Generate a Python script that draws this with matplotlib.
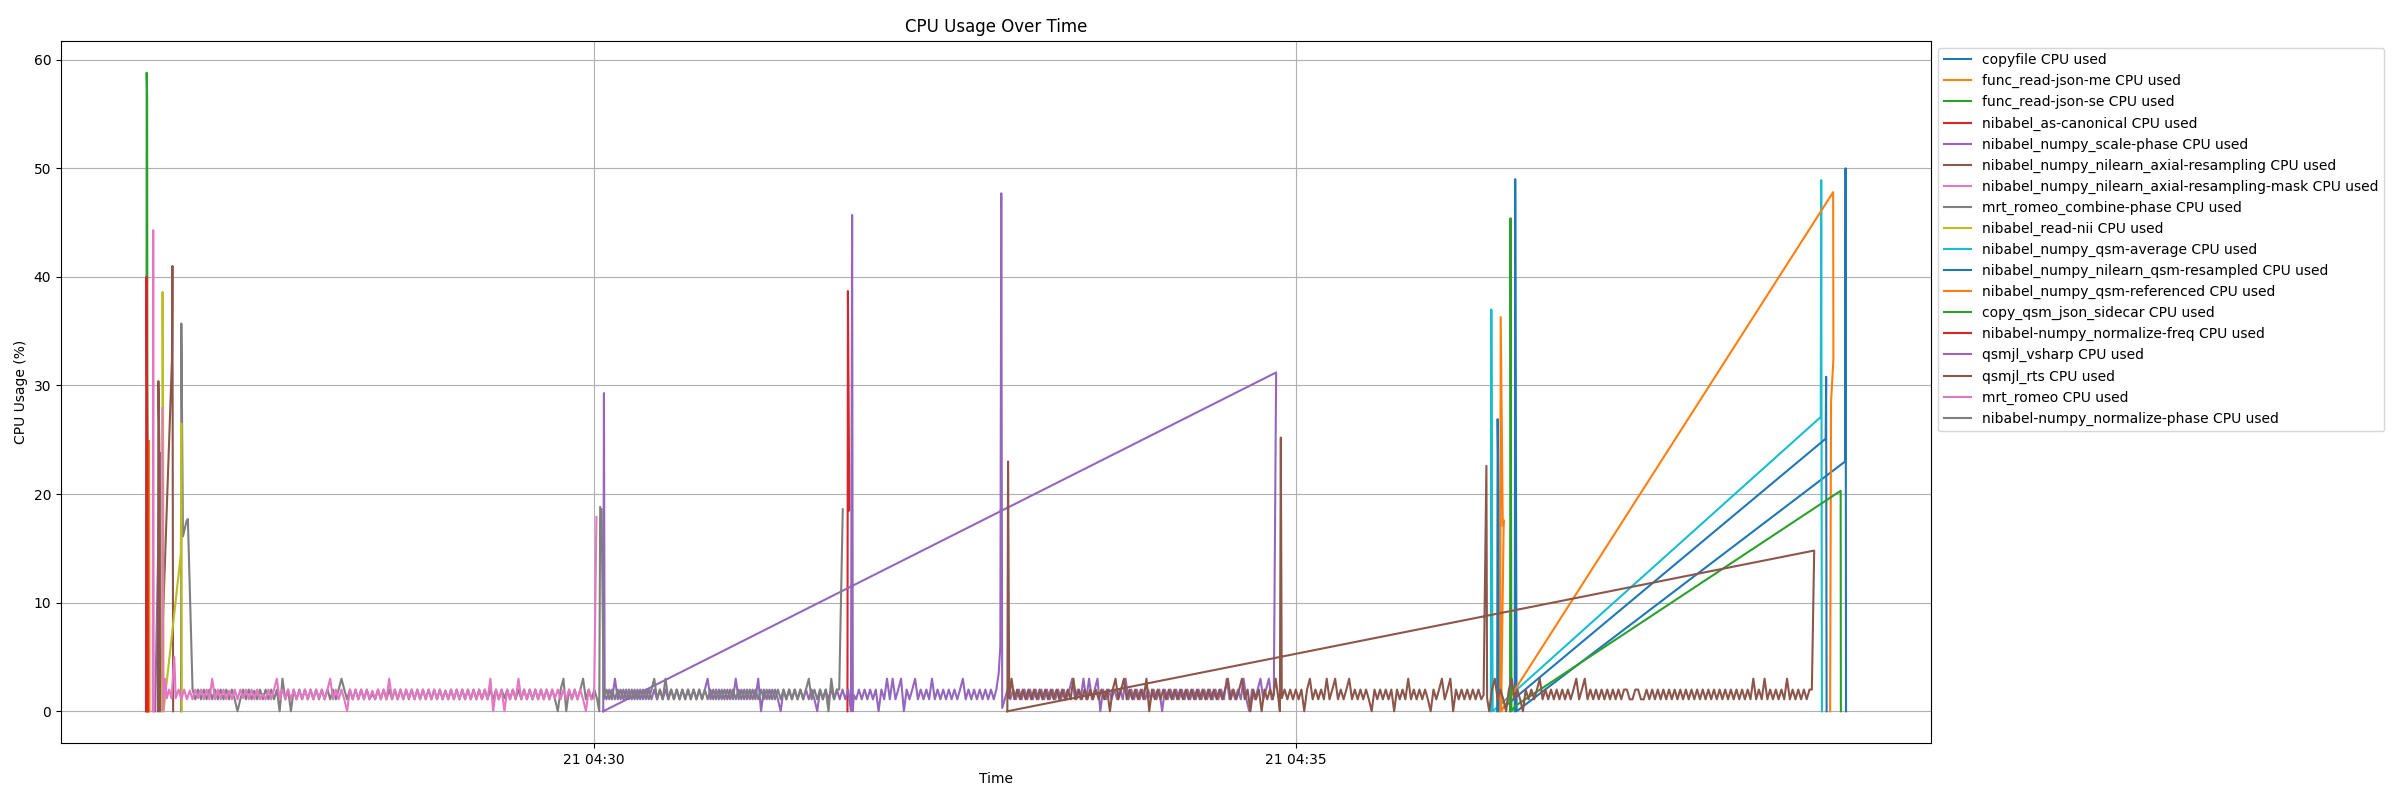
import pandas as pd
import matplotlib
matplotlib.use('Agg')
import matplotlib.pyplot as plt

# timestamps are seconds relative to 04:30:00, monitor sampled every ~1.2 s
base_time = pd.Timestamp('2024-05-21 04:30:00')
sample_step = 1.2

# --- short runs (time in s, cpu in %) ---
copyfile_t = [393.3, 393.5, 393.9, 394.1, 534.4, 534.6, 534.8]
copyfile_v = [0.0, 49.0, 16.4, 0.0, 23.0, 50.0, 0.0]

json_me_t = [-190.2, -190.0, -189.8]
json_me_v = [0.0, 24.9, 0.0]

json_se_t = [-191.1, -191.0, -190.8, -190.6]
json_se_v = [0.0, 58.8, 56.9, 0.0]

canonical_t = [-191.3, -191.1, -190.9, -190.7, -190.5]
canonical_v = [0.0, 40.0, 31.9, 25.3, 0.0]

scale_phase_t = [-187.4, -185.3, -185.1]
scale_phase_v = [0.0, 23.8, 0.0]

axial_t = [-186.2, -186.0, -185.6, -185.4, -180.2, -180.0, -179.7]
axial_v = [0.0, 30.4, 24.7, 0.0, 32.4, 41.0, 0.0]

axial_mask_t = [-188.4, -188.2, -188.0]
axial_mask_v = [0.0, 44.3, 0.0]

read_nii_t = [-184.4, -184.2, -184.0, -183.8, -176.4, -176.2, -176.0]
read_nii_v = [0.0, 38.6, 28.0, 0.0, 14.5, 26.5, 0.0]

qsm_average_t = [383.1, 383.3, 383.6, 383.9, 524.0, 524.2, 524.5]
qsm_average_v = [0.0, 37.0, 14.8, 0.0, 27.1, 48.9, 0.0]

qsm_resampled_t = [385.8, 386.0, 386.4, 386.6, 526.1, 526.3, 526.5]
qsm_resampled_v = [0.0, 26.9, 19.7, 0.0, 25.1, 30.8, 0.0]

qsm_referenced_t = [387.1, 387.3, 388.2, 388.6, 387.5, 529.3, 529.4, 528.4, 528.0]
qsm_referenced_v = [0.0, 36.3, 17.1, 17.6, 0.0, 47.8, 32.4, 28.5, 0.0]

sidecar_t = [391.3, 391.5, 391.9, 393.6, 532.5, 532.6]
sidecar_v = [0.0, 45.4, 0.0, 0.5, 20.3, 0.0]

norm_freq_t = [108.3, 108.5, 109.1]
norm_freq_v = [0.0, 38.7, 18.5]

# --- mrt_romeo_combine-phase ---
combine_start_t = [-176.3, -176.2, -175.5, -174.0, -173.4, -171.4]
combine_start_v = [0.0, 35.7, 16.1, 17.5, 17.7, 2.0]
combine_noise_start = -170.2
combine_noise = [
    1.1, 2.0, 1.1, 2.0, 1.1, 2.0, 1.1, 2.0, 1.1, 2.0, 1.1, 2.0,
    1.1, 2.0, 1.1, 0.0, 1.1, 2.0, 1.1, 2.0, 1.1, 1.9, 1.1, 2.0,
    1.1, 2.0, 1.1, 2.0, 1.1, 2.0, 0.0, 3.0, 1.1, 2.0, 0.0, 2.0,
    1.1, 2.0, 1.1, 2.0, 1.1, 2.0, 1.1, 2.0, 1.1, 2.0, 1.1, 2.0,
    1.1, 2.0, 1.1, 2.0, 3.0, 2.0, 1.1, 2.0, 1.1, 2.0, 1.1, 2.0,
    1.1, 2.0, 1.1, 1.6, 1.1, 2.0, 1.1, 2.0, 1.1, 2.0, 1.1, 2.0,
    1.1, 2.0, 1.1, 2.0, 1.1, 2.0, 1.1, 2.0, 1.1, 2.0, 1.1, 2.0,
    1.1, 2.0, 1.1, 2.0, 1.1, 1.9, 1.1, 2.0, 1.1, 2.0, 1.1, 2.0,
    1.1, 2.0, 1.1, 2.0, 1.1, 2.0, 1.1, 2.0, 1.1, 2.0, 1.1, 2.0,
    1.1, 2.0, 1.2, 2.0, 1.1, 2.0, 1.1, 2.0, 1.1, 2.0, 1.1, 2.0,
    1.1, 2.0, 1.1, 2.0, 1.1, 2.0, 1.1, 2.0, 1.1, 0.0, 2.0, 3.0,
    0.0, 2.0, 1.1, 2.0, 1.1, 2.0, 3.0, 1.1, 2.0, 1.1, 2.0, 1.1,
]
combine_end_t = [2.3, 2.7]
combine_end_v = [0.0, 18.8]

# --- mrt_romeo ---
romeo_start_t = [-184.3, -184.0, -183.2, -182.4, -181.4, -180.4, -179.2, -178.6]
romeo_start_v = [27.9, 0.0, 3.0, 1.2, 2.0, 1.2, 5.0, 1.2]
romeo_noise_start = -177.4
romeo_noise = [
    2.0, 1.1, 2.0, 1.1, 1.9, 1.1, 2.0, 1.2, 2.0, 1.1, 2.0, 1.1,
    3.0, 1.1, 2.0, 1.1, 2.0, 1.1, 1.9, 1.1, 2.0, 1.1, 2.0, 1.2,
    2.0, 1.1, 2.0, 1.1, 2.0, 1.1, 1.6, 1.1, 2.0, 1.1, 2.0, 3.0,
    1.1, 2.0, 1.1, 2.0, 1.1, 2.0, 1.1, 1.9, 1.1, 2.0, 1.1, 2.0,
    1.1, 2.0, 1.2, 2.0, 1.1, 2.0, 3.0, 1.1, 2.0, 1.1, 2.0, 1.1,
    0.0, 2.0, 1.1, 2.0, 1.1, 2.0, 1.1, 2.0, 1.1, 1.9, 1.1, 2.0,
    1.1, 2.0, 1.1, 3.0, 1.1, 2.0, 1.1, 2.0, 1.1, 2.0, 1.2, 2.0,
    1.1, 2.0, 1.1, 2.0, 1.1, 2.0, 1.1, 2.0, 1.1, 2.0, 1.1, 1.9,
    1.1, 2.0, 1.1, 2.0, 1.1, 2.0, 1.1, 2.0, 1.1, 2.0, 1.1, 2.0,
    1.1, 2.0, 1.1, 3.0, 0.0, 2.0, 1.1, 2.0, 0.0, 2.0, 1.1, 2.0,
    1.1, 3.0, 1.1, 2.0, 1.1, 2.0, 1.1, 2.0, 1.1, 2.0, 1.1, 2.0,
    1.1, 2.0, 1.2, 2.0, 1.1, 2.0, 1.1, 2.0, 1.1, 2.0, 1.1, 2.0,
    1.1, 0.0, 2.0, 1.1,
]
romeo_end_t = [0.1, 1.1]
romeo_end_v = [1.2, 17.9]

# --- nibabel-numpy_normalize-phase ---
norm_phase_start_t = [3.3]
norm_phase_start_v = [18.6]
norm_phase_noise_start = 4.2
norm_phase_noise = [
    1.1, 2.0, 1.1, 2.0, 1.1, 2.0, 1.1, 2.0, 1.1, 2.0, 1.1, 2.0,
    1.1, 2.0, 1.1, 2.0, 1.1, 2.0, 3.0, 1.1, 2.0, 1.1, 3.0, 1.1,
    2.0, 1.1, 2.0, 1.1, 2.0, 1.1, 2.0, 1.1, 2.0, 1.1, 2.0, 1.1,
    2.0, 1.1, 2.0, 1.1, 2.0, 1.1, 2.0, 1.1, 2.0, 1.1, 2.0, 1.1,
    2.0, 1.1, 2.0, 1.1, 2.0, 1.1, 2.0, 1.1, 2.0, 1.1, 2.0, 1.1,
    2.0, 1.1, 2.0, 1.1, 2.0, 1.1, 2.0, 1.1, 2.0, 1.1, 2.0, 1.1,
    2.0, 3.0, 1.1, 2.0, 1.1, 2.0, 1.1, 2.0, 0.0, 3.0, 1.1, 2.0,
]
norm_phase_end_t = [104.8, 106.3]
norm_phase_end_v = [2.0, 18.6]

# --- qsmjl_vsharp ---
vsharp_start_t = [4.0, 4.3, 4.6]
vsharp_start_v = [0.0, 29.3, 1.5]
vsharp_noise_a_start = 5.4
vsharp_noise_a = [
    1.1, 2.0, 1.1, 3.0, 1.1, 2.0, 1.1, 2.0, 1.1, 2.0, 1.1, 2.0,
    1.1, 2.0, 1.1, 2.0, 1.1, 2.0, 1.1, 2.0, 1.1, 2.0, 1.1, 2.0,
    1.1, 2.0, 1.1, 2.0, 1.1, 2.0, 1.1, 2.0, 1.1, 2.0, 1.1, 2.0,
    3.0, 1.1, 2.0, 1.1, 2.0, 1.1, 2.0, 1.1, 2.0, 1.1, 3.0, 1.1,
    2.0, 1.1, 2.0, 1.1, 2.0, 1.1, 3.0, 0.0, 2.0, 1.1, 2.0, 1.1,
    2.0, 1.1, 0.0, 2.0, 1.1, 2.0, 1.1, 2.0, 1.1, 2.0, 1.1, 2.0,
    1.1, 2.0, 1.1, 0.0, 2.0, 1.1, 2.0, 1.1, 2.0, 1.1, 2.0, 1.1,
    2.0, 1.1, 2.0,
]
vsharp_spike_a_t = [109.8, 110.3, 110.6, 111.0]
vsharp_spike_a_v = [0.0, 45.7, 0.0, 1.5]
vsharp_noise_b_start = 112.0
vsharp_noise_b = [
    1.1, 2.0, 1.1, 2.0, 1.1, 2.0, 1.1, 2.0, 0.0, 2.0, 1.1, 3.0,
    1.1, 3.0, 1.1, 2.0, 3.0, 0.0, 2.0, 1.1, 2.0, 3.0, 1.1, 2.0,
    1.1, 2.0, 1.1, 3.0, 1.1, 2.0, 1.1, 2.0, 1.1, 2.0, 1.1, 2.0,
    1.1, 2.0, 3.0, 1.1, 2.0, 1.1, 2.0, 1.1, 2.0, 1.1, 2.0, 1.1,
    2.0, 1.1,
]
vsharp_spike_b_t = [171.9, 172.9, 173.6, 174.0, 174.4]
vsharp_spike_b_v = [2.0, 3.5, 6.0, 47.7, 0.3]
vsharp_noise_c_start = 175.5
vsharp_noise_c = [
    1.1, 2.0, 1.1, 2.0, 1.1, 2.0, 1.1, 2.0, 1.1, 2.0, 1.1, 2.0,
    1.1, 2.0, 1.1, 2.0, 1.1, 2.0, 1.1, 2.0, 1.1, 2.0, 1.1, 2.0,
    3.0, 1.1, 2.0, 1.1, 3.0, 1.1, 3.0, 1.1, 2.0, 3.0, 0.0, 2.0,
    1.1, 2.0, 1.1, 2.0, 1.1, 2.0, 1.1, 3.0, 1.1, 2.0, 1.1, 2.0,
    1.1, 2.0, 1.1, 2.0, 1.1, 2.0, 1.1, 2.0, 0.0, 2.0, 1.1, 2.0,
    1.1, 2.0, 1.1, 2.0, 1.1, 2.0, 1.1, 2.0, 1.1, 2.0, 1.1, 2.0,
    1.1, 2.0, 1.1, 2.0, 1.1, 2.0, 1.1, 3.0, 1.1, 2.0, 1.1, 2.0,
    1.1, 3.0, 1.1, 0.0, 2.0, 1.1, 2.0, 3.0, 1.1, 2.0, 3.0, 1.1,
]
vsharp_end_t = [290.4, 291.4, 4.0]
vsharp_end_v = [1.5, 31.2, 0.0]

# --- qsmjl_rts ---
rts_start_t = [176.6, 176.9, 177.4]
rts_start_v = [0.0, 23.0, 1.2]
rts_noise_a_start = 178.4
rts_noise_a = [
    3.0, 1.1, 2.0, 1.1, 2.0, 1.1, 2.0, 1.1, 2.0, 1.1, 2.0, 1.1,
    2.0, 1.1, 2.0, 1.1, 2.0, 1.1, 2.0, 1.1, 2.0, 1.1, 3.0, 1.1,
    2.0, 1.1, 2.0, 1.1, 2.0, 1.1, 2.0, 1.1, 2.0, 1.1, 2.0, 0.0,
    2.0, 3.0, 1.1, 2.0, 3.0, 1.1, 2.0, 1.1, 2.0, 1.1, 2.0, 1.1,
    3.0, 0.0, 2.0, 1.1, 2.0, 1.1, 2.0, 1.1, 2.0, 1.1, 2.0, 1.1,
    2.0, 1.1, 2.0, 1.1, 2.0, 1.1, 2.0, 1.1, 2.0, 1.1, 2.0, 1.1,
    2.0, 1.1, 2.0, 1.1, 2.0, 3.0, 1.1, 2.0, 1.1, 2.0, 3.0, 1.1,
    2.0, 0.0, 2.0, 1.1, 2.0, 0.0, 2.0, 1.1, 2.0, 1.1, 3.0, 1.1,
]
rts_spike_a_t = [293.0, 293.4, 293.8]
rts_spike_a_v = [0.0, 25.2, 1.2]
rts_noise_b_start = 295.0
rts_noise_b = [
    2.0, 1.1, 2.0, 1.1, 2.0, 1.1, 2.0, 0.0, 2.0, 3.0, 1.1, 2.0,
    1.1, 2.0, 1.1, 3.0, 1.1, 2.0, 3.0, 1.1, 2.0, 1.1, 2.0, 3.0,
    1.1, 2.0, 1.1, 2.0, 1.1, 2.0, 1.1, 0.0, 2.0, 1.1, 2.0, 1.1,
    2.0, 1.1, 2.0, 0.0, 2.0, 1.1, 2.0, 1.1, 3.0, 1.1, 2.0, 1.1,
    2.0, 1.1, 2.0, 1.1, 0.0, 2.0, 1.1, 2.0, 3.0, 1.1, 2.0, 3.0,
    0.0, 2.0, 1.1, 2.0, 1.1, 2.0, 1.1, 2.0, 1.1, 2.0, 1.1,
]
rts_spike_b_t = [380.0, 381.2, 381.5]
rts_spike_b_v = [1.5, 22.6, 1.2]
rts_noise_c_start = 382.4
rts_noise_c = [
    0.0, 2.0, 3.0, 1.1, 2.0, 1.1, 0.0, 2.0, 3.0, 1.1, 2.0, 1.1,
    0.0, 2.0, 1.1, 2.0, 1.1, 2.0, 3.0, 1.1, 2.0, 1.1, 2.0, 1.1,
    2.0, 1.1, 2.0, 1.1, 2.0, 1.1, 2.0, 3.0, 1.1, 2.0, 3.0, 1.1,
    2.0, 1.1, 2.0, 1.1, 2.0, 1.1, 2.0, 1.1, 2.0, 1.1, 2.0, 1.1,
    2.0, 2.0, 1.1, 1.1, 2.0, 2.0, 1.1, 1.1, 2.0, 1.1, 2.0, 1.1,
    2.0, 1.1, 2.0, 1.1, 2.0, 1.1, 2.0, 1.1, 2.0, 1.1, 2.0, 1.1,
    2.0, 1.1, 2.0, 1.1, 2.0, 1.1, 2.0, 1.1, 2.0, 1.1, 2.0, 1.1,
    2.0, 1.1, 2.0, 1.1, 2.0, 1.1, 2.0, 1.1, 2.0, 1.1, 3.0, 1.1,
    2.0, 1.1, 3.0, 1.1, 2.0, 1.1, 2.0, 1.1, 2.0, 1.1, 3.0, 1.1,
    2.0, 1.1, 2.0, 1.1, 2.0, 1.1, 2.0,
]
rts_end_t = [520.2, 521.2, 176.6]
rts_end_v = [2.0, 14.8, 0.0]


def regular(start, values):
    return [start + i * sample_step for i in range(len(values))], values


def join(*parts):
    t, v = [], []
    for pt, pv in parts:
        t += list(pt)
        v += list(pv)
    return t, v


series = [
    ('copyfile', (copyfile_t, copyfile_v)),
    ('func_read-json-me', (json_me_t, json_me_v)),
    ('func_read-json-se', (json_se_t, json_se_v)),
    ('nibabel_as-canonical', (canonical_t, canonical_v)),
    ('nibabel_numpy_scale-phase', (scale_phase_t, scale_phase_v)),
    ('nibabel_numpy_nilearn_axial-resampling', (axial_t, axial_v)),
    ('nibabel_numpy_nilearn_axial-resampling-mask', (axial_mask_t, axial_mask_v)),
    ('mrt_romeo_combine-phase', join((combine_start_t, combine_start_v),
                                     regular(combine_noise_start, combine_noise),
                                     (combine_end_t, combine_end_v))),
    ('nibabel_read-nii', (read_nii_t, read_nii_v)),
    ('nibabel_numpy_qsm-average', (qsm_average_t, qsm_average_v)),
    ('nibabel_numpy_nilearn_qsm-resampled', (qsm_resampled_t, qsm_resampled_v)),
    ('nibabel_numpy_qsm-referenced', (qsm_referenced_t, qsm_referenced_v)),
    ('copy_qsm_json_sidecar', (sidecar_t, sidecar_v)),
    ('nibabel-numpy_normalize-freq', (norm_freq_t, norm_freq_v)),
    ('qsmjl_vsharp', join((vsharp_start_t, vsharp_start_v),
                          regular(vsharp_noise_a_start, vsharp_noise_a),
                          (vsharp_spike_a_t, vsharp_spike_a_v),
                          regular(vsharp_noise_b_start, vsharp_noise_b),
                          (vsharp_spike_b_t, vsharp_spike_b_v),
                          regular(vsharp_noise_c_start, vsharp_noise_c),
                          (vsharp_end_t, vsharp_end_v))),
    ('qsmjl_rts', join((rts_start_t, rts_start_v),
                       regular(rts_noise_a_start, rts_noise_a),
                       (rts_spike_a_t, rts_spike_a_v),
                       regular(rts_noise_b_start, rts_noise_b),
                       (rts_spike_b_t, rts_spike_b_v),
                       regular(rts_noise_c_start, rts_noise_c),
                       (rts_end_t, rts_end_v))),
    ('mrt_romeo', join((romeo_start_t, romeo_start_v),
                       regular(romeo_noise_start, romeo_noise),
                       (romeo_end_t, romeo_end_v))),
    ('nibabel-numpy_normalize-phase', join((norm_phase_start_t, norm_phase_start_v),
                                           regular(norm_phase_noise_start, norm_phase_noise),
                                           (norm_phase_end_t, norm_phase_end_v))),
]

fig = plt.figure(figsize=(24, 8), dpi=100)
for name, (t, v) in series:
    times = base_time + pd.to_timedelta(t, unit='s')
    plt.plot(times, v, label=f'{name} CPU used')

plt.title('CPU Usage Over Time')
plt.xlabel('Time')
plt.ylabel('CPU Usage (%)')
plt.grid(True)
plt.legend(loc='upper left', bbox_to_anchor=(1, 1))
plt.subplots_adjust(left=0.0254, right=0.8046, bottom=0.071, top=0.949)

plt.savefig('out.png')
